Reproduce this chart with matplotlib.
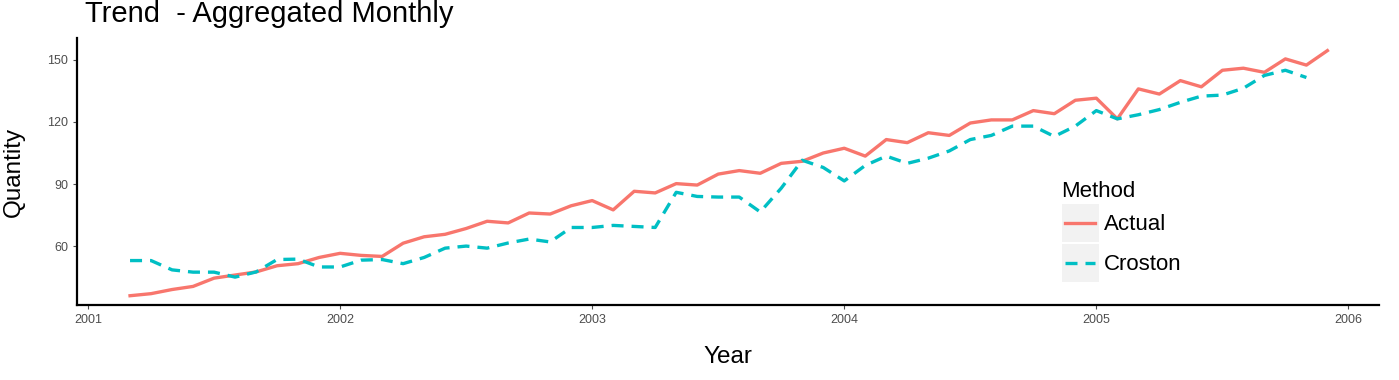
import numpy as np
import matplotlib.pyplot as plt
from matplotlib.legend_handler import HandlerLine2D
from matplotlib.patches import Rectangle

plt.rcParams['font.family'] = ['Liberation Sans', 'DejaVu Sans']

# monthly series, Mar 2001 .. Dec 2005
dates = 2001 + (2 + np.arange(58)) / 12

actual = [36, 37, 39, 40.5, 44.5, 46, 47.5, 50.5, 51.5, 54.5, 56.5, 55.5,
          55, 61.4, 64.5, 65.7, 68.5, 72, 71.2, 76, 75.5, 79.5, 82, 77.5,
          86.5, 85.7, 90.2, 89.5, 94.8, 96.5, 95.2, 100, 101, 105, 107.3, 103.5,
          111.5, 110, 114.8, 113.5, 119.5, 121, 121, 125.5, 124, 130.5, 131.5, 121.5,
          136, 133.5, 140, 137, 145, 146, 144, 150.5, 147.5, 154.5]

croston = [53, 53, 48.5, 47.4, 47.4, 45, 47.5, 53.5, 53.7, 49.9, 49.9, 53.2,
           53.5, 51.5, 54.5, 59, 60, 59, 61.5, 63.4, 62, 69, 69, 70,
           69.5, 69, 86, 84, 83.7, 83.7, 76.5, 88, 101.5, 98, 91.5, 99,
           103.5, 100, 102.5, 106, 111.5, 113.5, 118, 118, 113, 118, 125.5, 121.5,
           123.5, 126, 129.5, 132.5, 133, 136.3, 142.5, 145, 141.5]

yticks = [60, 90, 120, 150]
xticks = [2001, 2002, 2003, 2004, 2005, 2006]


class KeyHandler(HandlerLine2D):
    # ggplot-style grey key box behind each legend line
    def create_artists(self, legend, orig_handle, xdescent, ydescent,
                       width, height, fontsize, trans):
        box = Rectangle((-xdescent, -ydescent), width, height,
                        facecolor='#f2f2f2', edgecolor='none', transform=trans)
        arts = super().create_artists(legend, orig_handle, xdescent, ydescent,
                                      width, height, fontsize, trans)
        yc = -ydescent + height / 2
        pad = 0.1 * width
        for a in arts:
            n = len(a.get_xdata())
            a.set_xdata(np.linspace(-xdescent + pad, width - xdescent - pad, n))
            a.set_ydata(np.full(n, yc))
        return [box] + arts


fig = plt.figure(figsize=(13.99, 3.8), dpi=100)
ax = fig.add_axes([0.055, 0.197, 0.931, 0.703])

ax.plot(dates, actual, color='#F8766D', lw=2.4, label='Actual')
ax.plot(dates[:len(croston)], croston, color='#00BFC4', lw=2.4,
        linestyle=(0, (3.6, 2.4)), label='Croston')

ax.set_xlim(2000.956, 2006.123)
ax.set_ylim(31.45, 160.6)
ax.set_xticks(xticks)
ax.set_xticklabels([str(x) for x in xticks])
ax.set_yticks(yticks)
ax.tick_params(labelsize=9, colors='#4d4d4d', length=3, width=0.8)
for s in ['top', 'right']:
    ax.spines[s].set_visible(False)
for s in ['left', 'bottom']:
    ax.spines[s].set_linewidth(1.6)
    ax.spines[s].set_color('black')

ax.set_xlabel('Year', fontsize=17.5)
ax.set_ylabel('Quantity', fontsize=17.5)
ax.xaxis.set_label_coords(0.5, -0.154)
ax.yaxis.set_label_coords(-0.040, 0.5)
fig.text(85 / 1399, 1 - 22 / 380, 'Trend  - Aggregated Monthly', fontsize=21,
         va='baseline', ha='left')

leg = ax.legend(title='Method', loc='upper left', bbox_to_anchor=(0.756, 0.464),
                frameon=False, fontsize=16, title_fontsize=16,
                handlelength=1.67, handleheight=2.3, labelspacing=0.06,
                handletextpad=0.25, borderaxespad=0, borderpad=0,
                handler_map={plt.Line2D: KeyHandler()})
leg._legend_box.align = 'left'

fig.savefig('out.png', dpi=100)
